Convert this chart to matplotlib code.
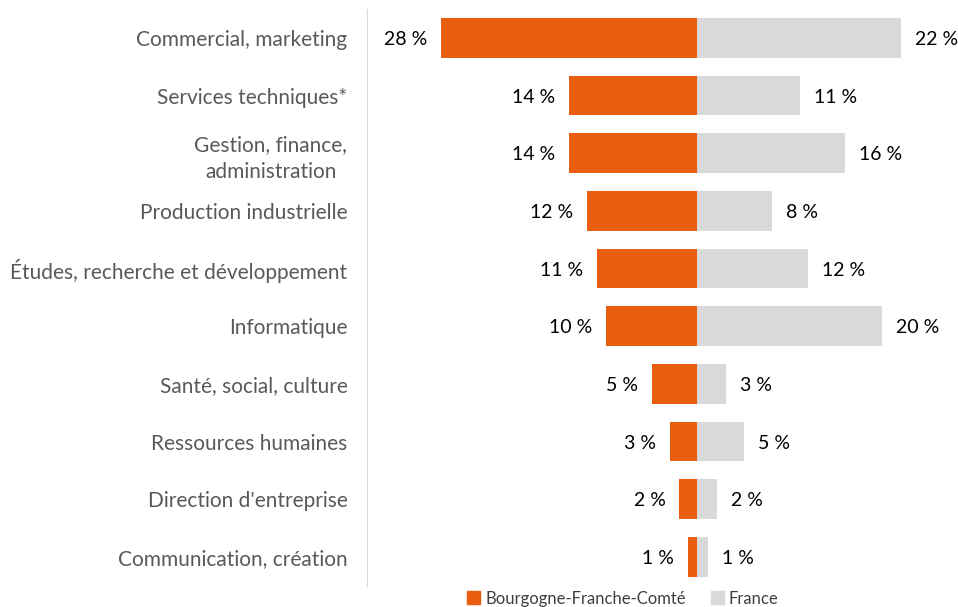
import matplotlib
matplotlib.use("Agg")
import matplotlib.pyplot as plt
from matplotlib.patches import Patch

categories = [
    "Commercial, marketing",
    "Services techniques*",
    "Gestion, finance,\nadministration",
    "Production industrielle",
    "Études, recherche et développement",
    "Informatique",
    "Santé, social, culture",
    "Ressources humaines",
    "Direction d'entreprise",
    "Communication, création",
]
bfc = [27.6, 13.8, 13.8, 11.9, 10.8, 9.8, 4.9, 2.9, 1.9, 1.0]
france = [22.0, 11.1, 16.0, 8.1, 12.0, 20.0, 3.1, 5.1, 2.2, 1.2]
series_names = ["Bourgogne-Franche-Comté", "France"]

ORANGE = "#E85D0F"
GRAY = "#D9D9D9"
FONT = ["Lato", "DejaVu Sans"]

fig = plt.figure(figsize=(9.58, 6.07), dpi=100)
ax = fig.add_axes([0.383, 0.035, 0.6, 0.95])

y = list(range(len(categories)))
ax.barh(y, [-v for v in bfc], height=0.69, color=ORANGE)
ax.barh(y, france, height=0.69, color=GRAY)

ax.set_xlim(-35.6, 26.4)
ax.set_ylim(len(categories) - 0.5, -0.5)

for s in ["top", "right", "bottom"]:
    ax.spines[s].set_visible(False)
ax.spines["left"].set_color("#D9D9D9")
ax.set_xticks([])
ax.set_yticks(y)
ax.set_yticklabels(categories, fontsize=15, color="#595959", family=FONT,
                   multialignment="center", linespacing=1.45)
ax.tick_params(axis="y", length=0, pad=14)

for i, (a, b) in enumerate(zip(bfc, france)):
    ax.annotate(f"{round(a)} %", xy=(-a, i), xytext=(-10, 0), textcoords="offset points",
                ha="right", va="center_baseline", fontsize=14, color="black", family=FONT)
    ax.annotate(f"{round(b)} %", xy=(b, i), xytext=(10, 0), textcoords="offset points",
                ha="left", va="center_baseline", fontsize=14, color="black", family=FONT)

handles = [Patch(color=ORANGE, label=series_names[0]), Patch(color=GRAY, label=series_names[1])]
fig.legend(handles=handles, loc="center", bbox_to_anchor=(0.65, 0.014), ncol=2, frameon=False,
           prop={"family": FONT, "size": 12}, handlelength=0.8, handleheight=0.8,
           handletextpad=0.3, columnspacing=1.5, labelcolor="#404040")

fig.savefig("out.png", dpi=100)
